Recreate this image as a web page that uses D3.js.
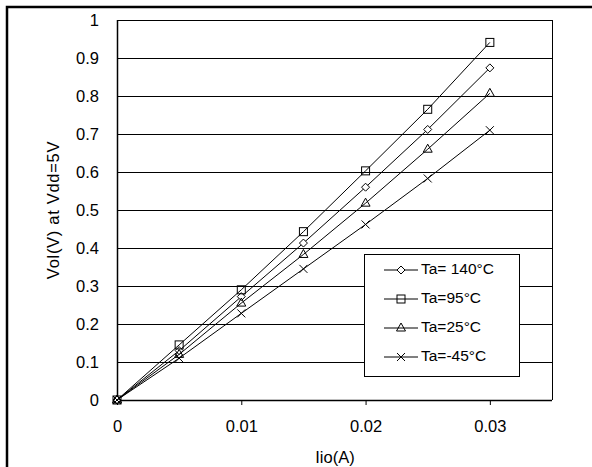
<!DOCTYPE html>
<html><head><meta charset="utf-8">
<script src="https://cdn.jsdelivr.net/npm/d3@7"></script>
<style>body{margin:0;background:#fff}svg{display:block}text{font-family:"Liberation Sans",Arial,sans-serif;}</style>
</head><body><svg id="c" width="592" height="467"></svg>
<script>
const xValues = [0, 0.005, 0.01, 0.015, 0.02, 0.025, 0.03];
const seriesNames = ["Ta=  140\u00B0C", "Ta=95\u00B0C", "Ta=25\u00B0C", "Ta=-45\u00B0C"];
const seriesMarkers = ["diamond", "square", "triangle", "x"];
const v140 = [0, 0.13, 0.272, 0.413, 0.56, 0.712, 0.874];
const v95  = [0, 0.145, 0.29, 0.443, 0.603, 0.765, 0.941];
const v25  = [0, 0.12, 0.255, 0.383, 0.518, 0.66, 0.807];
const vm45 = [0, 0.11, 0.228, 0.345, 0.462, 0.583, 0.71];
const seriesValues = [v140, v95, v25, vm45];
const xTicks = [0, 0.01, 0.02, 0.03];
const yTicks = [0, 0.1, 0.2, 0.3, 0.4, 0.5, 0.6, 0.7, 0.8, 0.9, 1];

const FONT = "Liberation Sans, Arial, sans-serif";
const svg = d3.select("#c");
// outer frame
svg.append("rect").attr("x", 7).attr("y", 7).attr("width", 600).attr("height", 500)
  .attr("fill", "none").attr("stroke", "#000").attr("stroke-width", 2.5);

const L = 117, R = 552, T = 20, B = 400;
const x = d3.scaleLinear().domain([0, 0.035]).range([L, R]);
const y = d3.scaleLinear().domain([0, 1]).range([B, T]);

// gridlines
svg.append("g").selectAll("line").data(yTicks.slice(1)).join("line")
  .attr("x1", L).attr("x2", R).attr("y1", d => Math.round(y(d)) + 0.5).attr("y2", d => Math.round(y(d)) + 0.5)
  .attr("stroke", "#000").attr("stroke-width", 1);
// plot border right
svg.append("line").attr("x1", R + 0.5).attr("x2", R + 0.5).attr("y1", T).attr("y2", B).attr("stroke", "#000");

// x axis
const xAxis = d3.axisBottom(x).tickValues(xTicks).tickSize(5).tickPadding(15).tickFormat(d => d === 0 ? "0" : d3.format(".2f")(d));
const gx = svg.append("g").attr("transform", `translate(0,${B})`).call(xAxis);
gx.select(".domain").attr("stroke", "#000").attr("stroke-width", 1.5).attr("d", `M${L},0.5H${R}`);
gx.selectAll(".tick line").attr("stroke", "#000");
gx.selectAll("text").attr("font-size", 16.5).attr("font-family", FONT).attr("fill", "#000");

// y axis
const yAxis = d3.axisLeft(y).tickValues(yTicks).tickSize(0).tickPadding(18).tickFormat(d => d === 0 ? "0" : d === 1 ? "1" : d3.format(".1f")(d));
const gy = svg.append("g").attr("transform", `translate(${L},0)`).call(yAxis);
gy.select(".domain").attr("stroke", "#000").attr("stroke-width", 1.5).attr("d", `M0.5,${T}V${B}`);
gy.selectAll("text").attr("font-size", 16.5).attr("font-family", FONT).attr("fill", "#000");

// axis titles
svg.append("text").attr("x", 335).attr("y", 463).attr("text-anchor", "middle").attr("font-size", 16.5).text("Iio(A)");
svg.append("text").attr("transform", "translate(59,210) rotate(-90)").attr("text-anchor", "middle")
  .attr("font-size", 16.5).attr("letter-spacing", 0.7).text("Vol(V) at Vdd=5V");

function marker(g, type, cx, cy) {
  const s = 4;
  if (type === "diamond") {
    g.append("path").attr("d", `M${cx},${cy - s}L${cx + s},${cy}L${cx},${cy + s}L${cx - s},${cy}Z`).attr("fill", "#fff").attr("stroke", "#000");
  } else if (type === "square") {
    g.append("rect").attr("x", cx - s).attr("y", cy - s).attr("width", 2 * s).attr("height", 2 * s).attr("fill", "none").attr("stroke", "#000");
  } else if (type === "triangle") {
    g.append("path").attr("d", `M${cx},${cy - s - 1}L${cx + s + 0.5},${cy + s - 1}L${cx - s - 0.5},${cy + s - 1}Z`).attr("fill", "none").attr("stroke", "#000");
  } else {
    g.append("path").attr("d", `M${cx - s},${cy - s}L${cx + s},${cy + s}M${cx + s},${cy - s}L${cx - s},${cy + s}`).attr("stroke", "#000");
  }
}

const line = d3.line().x(d => x(d[0])).y(d => y(d[1]));
seriesValues.forEach((vals, i) => {
  const pts = xValues.map((xv, j) => [xv, vals[j]]);
  const g = svg.append("g");
  g.append("path").attr("d", line(pts)).attr("fill", "none").attr("stroke", "#000").attr("stroke-width", 1);
  pts.forEach(p => marker(g, seriesMarkers[i], x(p[0]), y(p[1])));
});

// legend
const lg = svg.append("g");
lg.append("rect").attr("x", 364.5).attr("y", 254.5).attr("width", 155).attr("height", 122).attr("fill", "#fff").attr("stroke", "#000");
seriesNames.forEach((name, i) => {
  const ly = 270 + i * 29;
  lg.append("line").attr("x1", 384).attr("x2", 418).attr("y1", ly).attr("y2", ly).attr("stroke", "#000");
  marker(lg, seriesMarkers[i], 401, ly);
  lg.append("text").attr("x", 421).attr("y", ly + 4).attr("font-size", 15.5).text(name);
});
</script></body></html>
